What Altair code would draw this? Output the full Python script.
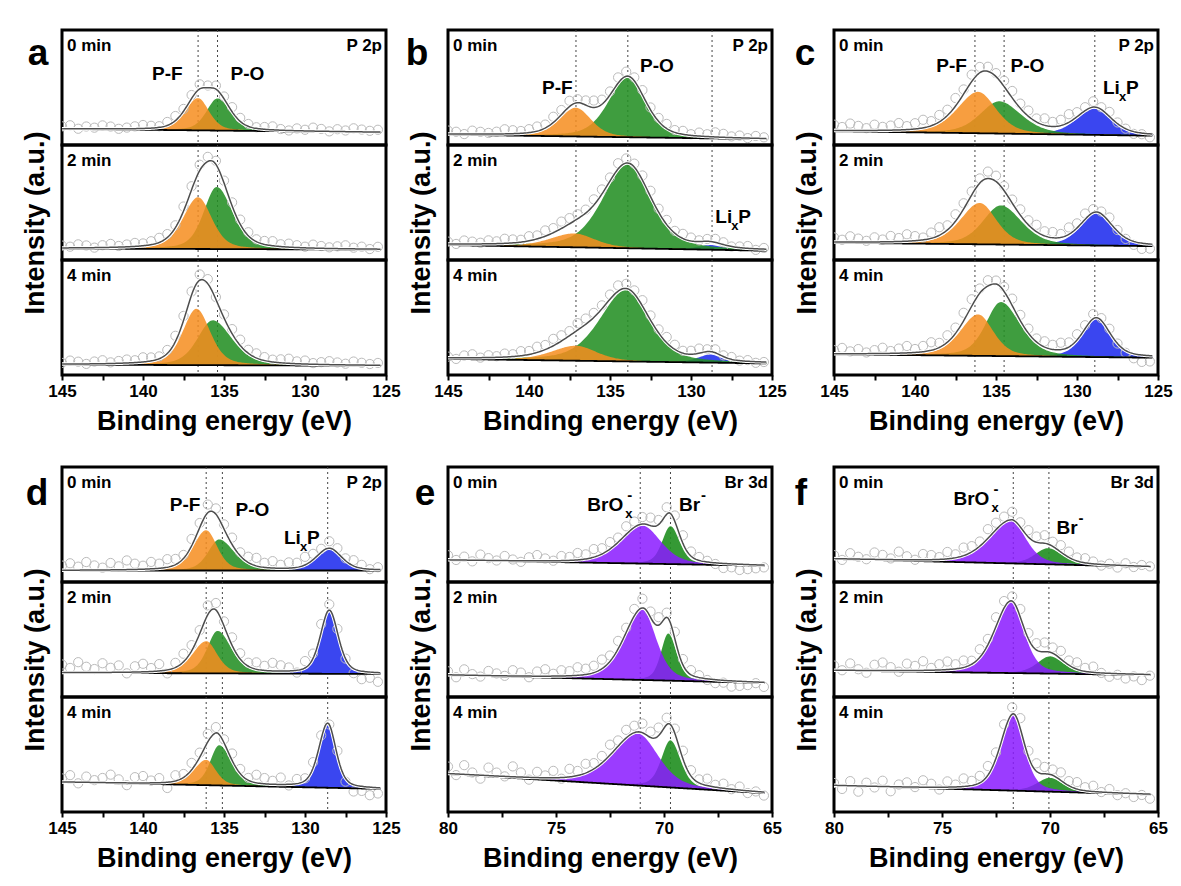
import altair as alt
import numpy as np
import pandas as pd

FONT = "Liberation Sans"
TIMES = ["0 min", "2 min", "4 min"]
PANELS = ["a", "b", "c", "d", "e", "f"]
CORE_LEVEL = {"a": "P 2p", "b": "P 2p", "c": "P 2p", "d": "P 2p", "e": "Br 3d", "f": "Br 3d"}
X_RANGE = {"a": (125, 145), "b": (125, 145), "c": (125, 145), "d": (125, 145),
           "e": (65, 80), "f": (65, 80)}
TICKS_P = [145, 142.5, 140, 137.5, 135, 132.5, 130, 127.5, 125]
TICKS_BR = [80, 77.5, 75, 72.5, 70, 67.5, 65]
COLORS = {"P-F": "#F68D1E", "P-O": "#249024", "LixP": "#3A46F0", "BrOx": "#8A1AFF", "Br": "#249024"}
OPAC = {"P-F": 0.85, "P-O": 0.88, "LixP": 1.0, "BrOx": 0.85, "Br": 0.92}

# background (high-BE end, low-BE end) as fraction of sub-panel height
BASE = {
    "a": [(0.14, 0.11), (0.10, 0.09), (0.09, 0.08)],
    "b": [(0.09, 0.05), (0.13, 0.08), (0.14, 0.10)],
    "c": [(0.12, 0.08), (0.15, 0.12), (0.18, 0.15)],
    "d": [(0.10, 0.10), (0.21, 0.20), (0.26, 0.20)],
    "e": [(0.19, 0.14), (0.19, 0.12), (0.33, 0.16)],
    "f": [(0.20, 0.13), (0.23, 0.19), (0.23, 0.15)],
}

# fitted components: (name, centre eV, height, FWHM high-BE side, FWHM low-BE side)
PEAKS = {
    "a": [
        [("P-O", 135.4, 0.28, 1.6, 1.9), ("P-F", 136.6, 0.28, 1.9, 1.6)],
        [("P-O", 135.45, 0.54, 1.9, 2.3), ("P-F", 136.6, 0.45, 2.2, 2.0)],
        [("P-O", 135.7, 0.39, 2.2, 2.8), ("P-F", 136.7, 0.49, 2.0, 2.0)],
    ],
    "b": [
        [("P-O", 133.9, 0.52, 2.8, 2.6), ("P-F", 137.1, 0.25, 2.4, 2.2)],
        [("LixP", 128.8, 0.04, 1.8, 1.8), ("P-O", 133.9, 0.73, 3.6, 3.4), ("P-F", 137.2, 0.12, 3.5, 3.0)],
        [("LixP", 128.8, 0.07, 1.8, 1.6), ("P-O", 134.0, 0.62, 3.8, 3.4), ("P-F", 137.1, 0.13, 3.5, 3.0)],
    ],
    "c": [
        [("LixP", 128.9, 0.23, 2.6, 2.4), ("P-O", 134.8, 0.28, 2.8, 3.2), ("P-F", 136.1, 0.36, 3.0, 2.6)],
        [("LixP", 128.8, 0.28, 2.3, 2.3), ("P-O", 134.7, 0.34, 2.6, 3.0), ("P-F", 136.0, 0.36, 2.8, 2.4)],
        [("LixP", 128.8, 0.33, 2.0, 2.0), ("P-O", 134.7, 0.47, 2.2, 2.8), ("P-F", 136.1, 0.36, 2.6, 2.2)],
    ],
    "d": [
        [("LixP", 128.5, 0.19, 1.9, 1.8), ("P-O", 135.3, 0.27, 1.6, 2.2), ("P-F", 136.1, 0.35, 1.9, 1.6)],
        [("LixP", 128.5, 0.55, 1.3, 1.3), ("P-O", 135.4, 0.37, 1.5, 2.0), ("P-F", 136.1, 0.28, 2.0, 1.6)],
        [("LixP", 128.6, 0.56, 1.3, 1.2), ("P-O", 135.3, 0.35, 1.3, 1.8), ("P-F", 136.1, 0.22, 1.8, 1.4)],
    ],
    "e": [
        [("Br", 69.7, 0.33, 0.9, 1.0), ("BrOx", 71.0, 0.33, 2.4, 2.0)],
        [("Br", 69.8, 0.41, 0.8, 0.9), ("BrOx", 71.0, 0.61, 2.0, 1.5)],
        [("Br", 69.7, 0.41, 1.0, 1.1), ("BrOx", 71.2, 0.45, 2.8, 2.2)],
    ],
    "f": [
        [("Br", 70.1, 0.14, 1.4, 1.6), ("BrOx", 71.8, 0.37, 2.4, 1.6)],
        [("Br", 70.0, 0.15, 1.4, 1.5), ("BrOx", 71.8, 0.62, 1.8, 1.4)],
        [("Br", 70.0, 0.12, 1.4, 1.4), ("BrOx", 71.7, 0.66, 1.4, 1.2)],
    ],
}

# dotted reference lines (eV)
LINES = {"a": [136.6, 135.4], "b": [137.1, 133.9, 128.7], "c": [136.3, 134.5, 128.9],
         "d": [136.1, 135.1, 128.6], "e": [71.1, 69.7], "f": [71.7, 70.05]}

# measured points: deviation from the fit envelope (in % of sub-panel height), 40 points each
RESID = {
    "a": [
        [1, 2, -1, 1, 0, 2, 1, -1, 0, 1, 2, 1, 0, 2, 3, 1, 2, 3, 1, 2, 1, 3, 2, 1, 0, 1, 2, 0, -1, 1, 0, 2, 1, -1, 1, 0, 2, 1, 0, 1],
        [1, 0, 2, 1, -1, 1, 2, 0, 1, 2, 1, 2, 3, 2, 1, 3, 2, 4, 3, 2, 1, 2, 3, 2, 1, 2, 3, 1, 2, 1, 0, 2, 1, 0, 1, 2, 0, 1, -1, 1],
        [0, 2, 1, -1, 1, 2, 0, 1, 2, 1, 3, 2, 1, 2, 4, 3, 2, 4, 3, 1, 2, 3, 4, 2, 3, 2, 1, 2, 3, 1, 2, 0, 1, 2, 1, 0, 2, 1, 0, 1],
    ],
    "b": [
        [2, 1, -1, 2, 1, 0, 1, 3, 2, 1, 2, 3, 2, 4, 3, 4, 2, 3, 5, 3, 2, 4, 3, 2, 3, 1, 2, 3, 1, 2, 0, 2, 1, 3, 2, 0, 1, -1, 1, 0],
        [1, -1, 2, 1, 0, 2, 1, 3, 2, 1, 3, 2, 4, 3, 5, 4, 3, 2, 4, 3, 2, 4, 3, 2, 3, 4, 2, 3, 1, 3, 2, 0, 1, 2, 1, -1, 0, 1, -2, 0],
        [0, -2, 1, 2, -1, 1, 0, 2, 1, 3, 2, 4, 3, 5, 4, 3, 5, 4, 3, 2, 3, 4, 3, 2, 4, 3, 2, 4, 3, 1, 2, 3, 1, 2, 0, 1, -1, 0, -2, -1],
    ],
    "c": [
        [4, 2, 5, 3, 1, 4, 2, 3, 5, 2, 4, 6, 3, 5, 4, 6, 3, 5, 4, 3, 2, 4, 5, 3, 4, 2, 5, 3, 4, 6, 3, 2, 4, 1, 3, 0, -1, -3, -2, -4],
        [3, 1, 4, 2, 0, 3, 1, 4, 2, 5, 3, 1, 4, 6, 3, 5, 4, 2, 3, 5, 4, 3, 2, 4, 3, 5, 3, 4, 2, 5, 3, 4, 2, 1, 3, 0, -2, -4, -6, -5],
        [2, 4, 1, 3, 0, 2, 4, 1, 3, 5, 2, 4, 6, 3, 5, 4, 6, 5, 3, 4, 2, 3, 5, 4, 3, 2, 4, 3, 5, 3, 4, 2, 3, 1, 2, -1, -3, -5, -7, -6],
    ],
    "d": [
        [3, 5, 2, 6, 3, 1, 5, 2, 7, 4, 2, 5, 3, 6, 4, 2, 5, 3, 6, 4, 3, 5, 2, 4, 6, 3, 5, 2, 4, 3, 6, 4, 2, 5, 3, 1, 4, 2, -1, 1],
        [6, 3, 8, 4, 2, 7, 3, 5, -2, 4, 6, 2, 5, -4, 3, 6, 4, 2, 7, 5, 3, 6, 4, 2, 5, 3, 6, 4, 2, -3, 5, 3, 6, 4, 2, -1, -5, -8, -6, -9],
        [2, 5, -2, 4, 1, 3, 6, 2, -3, 4, 5, 1, 3, -6, 4, 2, 5, 3, 6, 4, 2, 5, 3, 1, 6, 4, 2, 5, -2, 3, 1, 4, 2, -1, 3, -4, -7, -5, -8, -6],
    ],
    "e": [
        [3, -1, 2, -2, 4, 1, -1, 3, 0, -2, 2, 4, 1, -1, 3, 2, 5, 3, 6, 4, 5, 3, 6, 4, 5, 6, 3, 5, 4, 6, 3, 2, 0, -2, -5, -4, -6, -5, -4, -3],
        [2, -3, 4, 0, -2, 3, 1, -1, 4, 2, -2, 3, 5, 1, 4, 3, 6, 4, 5, 7, 4, 6, 3, 5, 7, 4, 6, 3, 5, 4, 3, 1, -2, -4, -3, -6, -5, -4, -2, -5],
        [5, -2, 7, 1, -4, 6, 2, -1, 8, 3, -3, 4, 1, 5, -2, 6, 3, 7, 4, 5, 8, 4, 6, 5, 7, 4, 6, 5, 3, 6, 4, 2, 5, 1, 3, -1, 2, -3, -1, -4],
    ],
    "f": [
        [2, -2, 4, 1, -1, 5, 3, 0, 6, 2, -1, 4, 3, 1, 5, 2, 6, 4, 3, 7, 5, 4, 6, 3, 5, 4, 6, 3, 5, 4, 2, 3, 1, -2, 0, -3, 1, -2, 0, -1],
        [3, -1, 5, 0, -3, 4, 6, 2, -2, 5, 3, 7, 1, 4, 6, 3, 5, 2, 6, 4, 7, 5, 3, 6, 4, 5, 7, 4, 6, 3, 5, 2, 4, -1, -4, -2, -5, -3, -6, -2],
        [1, -4, 3, -6, 2, -2, 4, -5, 1, 3, -1, 5, 2, -3, 4, 1, 6, 3, 5, 7, 4, 6, 5, 8, 4, 6, 5, 4, 6, 3, 5, 2, 4, -1, 2, -3, -1, -4, -2, -5],
    ],
}

# peak labels: (panel, sub-panel, kind, x eV, y fraction)
LABELS = [
    ("a", 0, "P-F", 138.5, 0.62), ("a", 0, "P-O", 133.55, 0.62),
    ("b", 0, "P-F", 138.25, 0.50), ("b", 0, "P-O", 132.1, 0.69),
    ("c", 0, "P-F", 137.74, 0.69), ("c", 0, "P-O", 133.06, 0.69),
    ("d", 0, "P-F", 137.4, 0.67), ("d", 0, "P-O", 133.25, 0.63),
]
LIXP_LABELS = [("b", 1, 128.5, 0.37), ("c", 0, 128.4, 0.50), ("d", 0, 131.3, 0.38)]
BROX_LABELS = [("e", 0, 73.55, 0.67), ("f", 0, 74.47, 0.72)]
BR_LABELS = [("e", 0, 69.3, 0.67), ("f", 0, 69.7, 0.47)]
LETTER_POS = {"a": (-24, 35), "b": (-31, 35), "c": (-29, 35), "d": (-25, 38), "e": (-23, 38), "f": (-33, 38)}

W, H = 324, 115
ROW_GAP = 92
MIX = 0.4


def peak(x, c, h, wh, wl):
    w = np.where(x >= c, wh, wl)
    t = (x - c) / w
    return h * ((1 - MIX) * np.exp(-4 * np.log(2) * t ** 2) + MIX / (1 + 4 * t ** 2))


def model(p, k, x):
    lo, hi = X_RANGE[p]
    bl, br = BASE[p][k]
    base = bl + (br - bl) * (hi - x) / (hi - lo)
    comps = [(name, peak(x, c, h, wh, wl)) for (name, c, h, wh, wl) in PEAKS[p][k]]
    return base, comps


def text_mark(df, size, align="center", dx=0, dy=0, baseline="middle", color="black", angle=None):
    kw = dict(font=FONT, fontWeight="bold", fontSize=size, align=align, baseline=baseline,
              dx=dx, dy=dy, color=color)
    if angle is not None:
        kw["angle"] = angle
    return alt.Chart(df).mark_text(**kw)


def subpanel(p, k):
    lo, hi = X_RANGE[p]
    xscale = alt.Scale(domain=[lo, hi], reverse=True, nice=False, zero=False)
    yscale = alt.Scale(domain=[0, 1], nice=False, zero=False)
    if k == 2:
        axis = alt.Axis(values=TICKS_P if hi > 100 else TICKS_BR,
                        labelExpr="datum.value % 5 == 0 ? datum.label : ''",
                        title="Binding energy (eV)", titleFont=FONT, titleFontSize=27,
                        titleFontWeight="bold", titlePadding=9, labelFont=FONT,
                        labelFontSize=17, labelFontWeight="bold", labelColor="black",
                        labelFlush=False, labelOverlap=False, labelPadding=3,
                        tickSize=5, tickWidth=2, tickColor="black", domain=False, grid=False)
    else:
        axis = None

    def X(field):
        return alt.X(f"{field}:Q", scale=xscale, axis=axis)

    def Y(field):
        return alt.Y(f"{field}:Q", scale=yscale, axis=None)

    layers = []
    ldf = pd.DataFrame({"x": LINES[p]})
    layers.append(alt.Chart(ldf).mark_rule(color="#444444", strokeWidth=1, strokeDash=[2, 3]).encode(
        x=X("x"), y=alt.value(0), y2=alt.value(H)))

    xs = np.linspace(hi, lo + 0.35, 260)
    base, comps = model(p, k, xs)
    env = base + sum(c for _, c in comps)
    for name, yv in comps:
        cdf = pd.DataFrame({"x": xs, "y": base + yv, "y2": base})
        layers.append(alt.Chart(cdf).mark_area(color=COLORS[name], opacity=OPAC[name]).encode(
            x=X("x"), y=Y("y"), y2=alt.Y2("y2")))

    res = np.array(RESID[p][k]) * 0.01
    step = (hi - lo) / len(res)
    xp = hi - step * np.arange(len(res))
    bp, cp = model(p, k, xp)
    ep = bp + sum(c for _, c in cp)
    pdf = pd.DataFrame({"x": xp, "y": ep + res + 0.01})
    layers.append(alt.Chart(pdf).mark_point(shape="circle", filled=False, size=85, stroke="#BBBBBB",
                                            strokeWidth=1, opacity=1, clip=True).encode(
        x=X("x"), y=Y("y")))

    bdf = pd.DataFrame({"x": xs, "y": base})
    layers.append(alt.Chart(bdf).mark_line(color="black", strokeWidth=1.8).encode(x=X("x"), y=Y("y")))
    edf = pd.DataFrame({"x": xs, "y": env})
    layers.append(alt.Chart(edf).mark_line(color="white", strokeWidth=3.5).encode(x=X("x"), y=Y("y")))
    layers.append(alt.Chart(edf).mark_line(color="#4D4D4D", strokeWidth=1.5).encode(x=X("x"), y=Y("y")))

    one = lambda s: pd.DataFrame({"t": [s]})
    layers.append(text_mark(one(TIMES[k]), 17, align="left", baseline="alphabetic").encode(
        x=alt.value(5), y=alt.value(21), text="t:N"))
    if k == 0:
        layers.append(text_mark(one(CORE_LEVEL[p]), 17, align="right", baseline="alphabetic").encode(
            x=alt.value(W - 4), y=alt.value(21), text="t:N"))
        lx, ly = LETTER_POS[p]
        layers.append(text_mark(one(p), 37, align="center", baseline="alphabetic").encode(
            x=alt.value(lx), y=alt.value(ly), text="t:N"))
    if k == 1:
        layers.append(text_mark(one("Intensity (a.u.)"), 27, angle=270).encode(
            x=alt.value(-26), y=alt.value(78), text="t:N"))
    if p == "a" and k == 0:
        layers.append(alt.Chart(one("")).mark_rule(color="white", strokeWidth=1).encode(
            x=alt.value(-60), x2=alt.value(-59), y=alt.value(-28)))

    for (pp, kk, kind, lxv, lyv) in LABELS:
        if pp == p and kk == k:
            d = pd.DataFrame({"x": [lxv], "y": [lyv], "t": [kind]})
            layers.append(text_mark(d, 19).encode(x=X("x"), y=Y("y"), text="t:N"))
    for (pp, kk, lxv, lyv) in LIXP_LABELS:
        if pp == p and kk == k:
            d = pd.DataFrame({"x": [lxv], "y": [lyv]})
            for t, fs, dx, dy in [("Li", 19, 0, 0), ("x", 13, 16, 9), ("P", 19, 23, 0)]:
                layers.append(text_mark(d.assign(t=t), fs, align="left", dx=dx, dy=dy).encode(
                    x=X("x"), y=Y("y"), text="t:N"))
    for (pp, kk, lxv, lyv) in BROX_LABELS:
        if pp == p and kk == k:
            d = pd.DataFrame({"x": [lxv], "y": [lyv]})
            for t, fs, dx, dy in [("BrO", 19, 0, 0), ("x", 13, 38, 9), ("-", 15, 40, -10)]:
                layers.append(text_mark(d.assign(t=t), fs, align="left", dx=dx, dy=dy).encode(
                    x=X("x"), y=Y("y"), text="t:N"))
    for (pp, kk, lxv, lyv) in BR_LABELS:
        if pp == p and kk == k:
            d = pd.DataFrame({"x": [lxv], "y": [lyv]})
            for t, fs, dx, dy in [("Br", 19, 0, 0), ("-", 15, 22, -10)]:
                layers.append(text_mark(d.assign(t=t), fs, align="left", dx=dx, dy=dy).encode(
                    x=X("x"), y=Y("y"), text="t:N"))

    return alt.layer(*layers).properties(width=W, height=H)


def spacer():
    return alt.Chart(pd.DataFrame({"t": [""]})).mark_text().encode(
        x=alt.value(0), y=alt.value(0), text="t:N"
    ).properties(width=W, height=ROW_GAP, view=alt.ViewBackground(strokeOpacity=0, strokeWidth=0))


cells = []
for k in range(3):
    cells += [subpanel(p, k) for p in PANELS[:3]]
cells += [spacer() for _ in range(3)]
for k in range(3):
    cells += [subpanel(p, k) for p in PANELS[3:]]

chart = alt.concat(*cells, columns=3, spacing={"row": 0, "column": 62}, bounds="flush").properties(
    padding=0, background="white"
).configure_view(stroke="black", strokeWidth=3)

chart.save("out.html", embed_options={"renderer": "svg", "actions": False})
